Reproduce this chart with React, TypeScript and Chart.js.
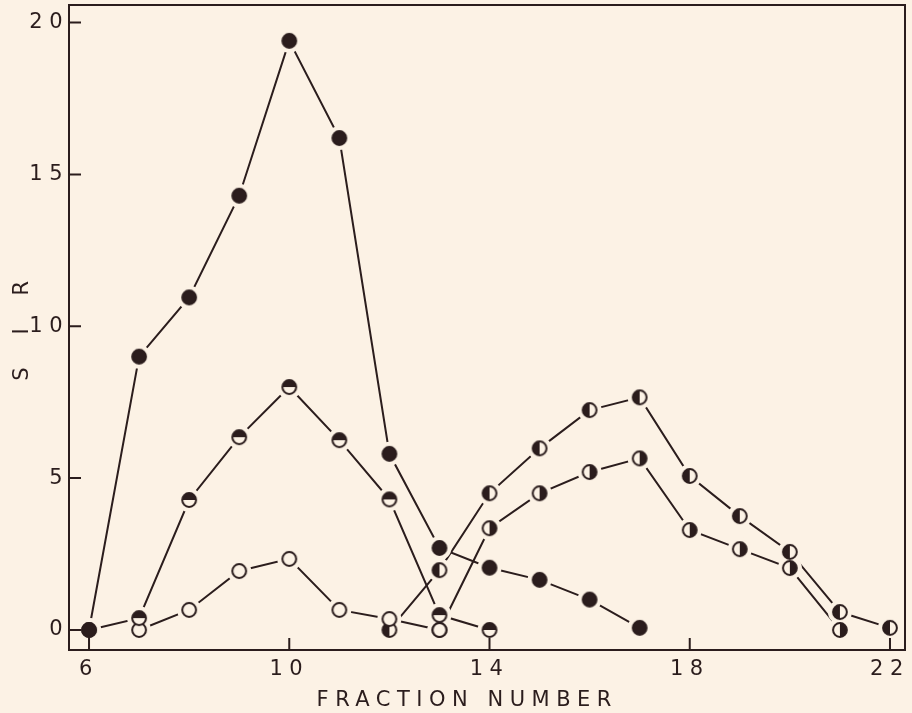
import React, { useEffect, useRef } from "react";
import { Chart, registerables } from "chart.js";

Chart.register(...registerables);

// ---- data ----
const filledX = [6, 7, 8, 9, 10, 11, 12, 13, 14, 15, 16, 17];
const filledY = [0, 9.0, 10.95, 14.3, 19.4, 16.2, 5.8, 2.7, 2.05, 1.65, 1.0, 0.07];

const halfTopX = [6, 7, 8, 9, 10, 11, 12, 13, 14];
const halfTopY = [0, 0.39, 4.28, 6.35, 8.0, 6.25, 4.3, 0.49, 0.0];

const openX = [7, 8, 9, 10, 11, 12, 13];
const openY = [0, 0.66, 1.94, 2.34, 0.66, 0.36, 0.0];

const upperX = [12, 13, 14, 15, 16, 17, 18, 19, 20, 21, 22];
const upperY = [0, 1.97, 4.5, 5.98, 7.24, 7.66, 5.07, 3.75, 2.57, 0.59, 0.07];

const lowerX = [13, 14, 15, 16, 17, 18, 19, 20, 21];
const lowerY = [0, 3.35, 4.5, 5.2, 5.65, 3.29, 2.66, 2.04, 0.0];

const xTicks = [6, 10, 14, 18, 22];
const yTicks = [0, 5, 10, 15, 20];

const xTitle = "FRACTION NUMBER\u00a0\u00a0\u00a0";
const yTitle = "S  I  R";

const BG = "#fcf2e5";
const INK = "#2b1d1d";
const FONT = "'DejaVu Sans', sans-serif";
const SPACING = "6.5px";

type Fill = "full" | "top" | "none" | "left" | "right";

function makeMarker(fill: Fill): HTMLCanvasElement {
  const size = 20;
  const c = document.createElement("canvas");
  c.width = size;
  c.height = size;
  const g = c.getContext("2d")!;
  const cx = size / 2;
  const cy = size / 2;
  const r = 6.9;
  g.beginPath();
  g.arc(cx, cy, r, 0, Math.PI * 2);
  g.fillStyle = BG;
  g.fill();
  if (fill !== "none") {
    g.save();
    g.beginPath();
    g.arc(cx, cy, r, 0, Math.PI * 2);
    g.clip();
    g.fillStyle = INK;
    if (fill === "full") g.fillRect(0, 0, size, size);
    if (fill === "top") g.fillRect(0, 0, size, cy);
    if (fill === "left") g.fillRect(0, 0, cx, size);
    if (fill === "right") g.fillRect(cx, 0, size, size);
    g.restore();
  }
  g.beginPath();
  g.arc(cx, cy, r, 0, Math.PI * 2);
  g.lineWidth = 2;
  g.strokeStyle = INK;
  g.stroke();
  return c;
}

function pts(xs: number[], ys: number[]) {
  return xs.map((x, i) => ({ x, y: ys[i] }));
}

const frameAndTicks = {
  id: "frameAndTicks",
  beforeLayout(chart: any) {
    chart.ctx.letterSpacing = SPACING;
  },
  beforeDraw(chart: any) {
    const { ctx } = chart;
    ctx.letterSpacing = SPACING;
    ctx.save();
    ctx.fillStyle = BG;
    ctx.fillRect(0, 0, chart.width, chart.height);
    ctx.restore();
  },
  afterDraw(chart: any) {
    const { ctx, chartArea } = chart;
    const xs = chart.scales.x;
    const ys = chart.scales.y;
    ctx.save();
    ctx.strokeStyle = INK;
    ctx.lineWidth = 2;
    ctx.strokeRect(chartArea.left, chartArea.top, chartArea.right - chartArea.left, chartArea.bottom - chartArea.top);
    ctx.beginPath();
    for (const t of xs.ticks) {
      const px = xs.getPixelForValue(t.value);
      ctx.moveTo(px, chartArea.bottom);
      ctx.lineTo(px, chartArea.bottom - 12);
    }
    for (const t of ys.ticks) {
      const py = ys.getPixelForValue(t.value);
      ctx.moveTo(chartArea.left, py);
      ctx.lineTo(chartArea.left + 12, py);
    }
    ctx.stroke();
    ctx.restore();
  },
};

export default function App() {
  const ref = useRef<HTMLCanvasElement | null>(null);

  useEffect(() => {
    document.body.style.margin = "0";
    document.body.style.background = BG;
    const canvas = ref.current!;
    const series: { xs: number[]; ys: number[]; fill: Fill }[] = [
      { xs: filledX, ys: filledY, fill: "full" },
      { xs: halfTopX, ys: halfTopY, fill: "top" },
      { xs: openX, ys: openY, fill: "none" },
      { xs: upperX, ys: upperY, fill: "left" },
      { xs: lowerX, ys: lowerY, fill: "right" },
    ];
    // top layer: symbols
    const markerSets = series.map((s) => ({
      data: pts(s.xs, s.ys),
      showLine: false,
      order: 0,
      pointStyle: makeMarker(s.fill) as any,
      pointRadius: 8,
      borderColor: INK,
      backgroundColor: INK,
    }));
    // middle layer: background discs that open a gap in the lines around each symbol
    const haloSets = series.map((s) => ({
      data: pts(s.xs, s.ys),
      showLine: false,
      order: 1,
      pointStyle: "circle" as const,
      pointRadius: 12,
      pointBorderWidth: 0,
      pointBackgroundColor: BG,
      pointBorderColor: BG,
      backgroundColor: BG,
    }));
    // bottom layer: connecting lines
    const lineSets = series.map((s) => ({
      data: pts(s.xs, s.ys),
      showLine: true,
      order: 2,
      borderColor: INK,
      borderWidth: 2,
      pointRadius: 0,
      tension: 0,
    }));

    const chart = new Chart(canvas, {
      type: "line",
      data: { datasets: [...markerSets, ...haloSets, ...lineSets] as any },
      options: {
        animation: false,
        responsive: true,
        maintainAspectRatio: false,
        layout: { autoPadding: false, padding: { top: 5, right: 7, left: 0, bottom: 0 } },
        plugins: { legend: { display: false }, tooltip: { enabled: false } },
        events: [],
        scales: {
          x: {
            type: "linear",
            min: 5.6,
            max: 22.3,
            afterBuildTicks: (s: any) => {
              s.ticks = xTicks.map((v) => ({ value: v }));
            },
            afterFit: (s: any) => {
              s.height = 63;
              s.paddingLeft = 0;
              s.paddingRight = 0;
            },
            grid: { display: false, drawTicks: false },
            border: { display: false },
            ticks: {
              padding: 7,
              color: INK,
              font: { family: FONT, size: 21 },
              maxRotation: 0,
              callback: (v: any) => String(v),
            },
            title: {
              display: true,
              text: xTitle,
              color: INK,
              font: { family: FONT, size: 21 },
              padding: { top: 0, bottom: 0 },
            },
          },
          y: {
            type: "linear",
            min: -0.66,
            max: 20.58,
            afterBuildTicks: (s: any) => {
              s.ticks = yTicks.map((v) => ({ value: v }));
            },
            afterFit: (s: any) => {
              s.width = 69;
              s.paddingTop = 0;
              s.paddingBottom = 0;
            },
            grid: { display: false, drawTicks: false },
            border: { display: false },
            ticks: {
              padding: 0,
              color: INK,
              font: { family: FONT, size: 21 },
              callback: (v: any) => String(v),
            },
            title: {
              display: true,
              text: yTitle,
              color: INK,
              font: { family: FONT, size: 21 },
              padding: { top: 10, bottom: 0 },
            },
          },
        },
      },
      plugins: [frameAndTicks],
    });
    return () => chart.destroy();
  }, []);

  return (
    <div style={{ width: 912, height: 713, position: "relative", background: BG }}>
      <canvas ref={ref} />
    </div>
  );
}
